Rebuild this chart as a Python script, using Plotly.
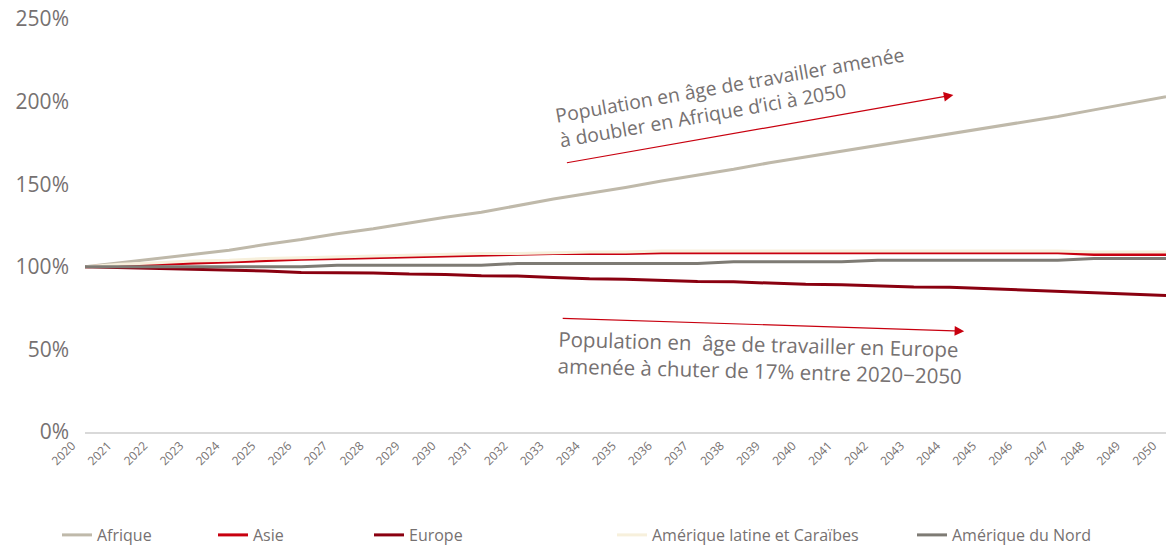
import plotly.graph_objects as go

# Population en âge de travailler, indice 2020 = 100 %
years = list(range(2020, 2051))

afrique = [100, 102.5, 105, 107.5, 110, 113.5, 116.5, 120, 123, 126.5, 130,
           133, 137, 141, 144.5, 148, 152, 155.5, 159, 163, 166.5,
           170, 173.5, 177, 180.5, 184, 187.5, 191, 195, 199, 203]
asie = [100, 100.8, 101.5, 102.5, 103, 104, 104.5, 105, 105.5, 106, 106.3,
        107, 107.3, 108, 108, 108, 108.5, 108.5, 108.5, 108.5, 108.5,
        108.5, 108.5, 108.5, 108.5, 108.5, 108.5, 108.5, 107.5, 107.5, 107.5]
europe = [100, 99.5, 99.3, 98.5, 98.3, 97.5, 96.5, 96.4, 96.3, 95.6, 95.4,
          94.6, 94.4, 93.5, 92.7, 92.5, 91.8, 91.1, 90.9, 90.2, 89.4,
          89.2, 88.5, 87.8, 87.6, 86.8, 86.0, 85.3, 84.5, 83.6, 82.7]
am_latine = [100, 101.5, 102.5, 103.5, 104, 105, 105.5, 106, 106.5, 107, 107.5,
             108, 108, 108.5, 109, 109, 109.5, 109.5, 109.5, 109.5, 109.5,
             109.5, 109.5, 109.5, 109.5, 109.5, 109.5, 109.5, 109, 109, 109]
am_nord = [100, 100, 100, 100, 100, 100, 100, 101, 101, 101, 101,
           101, 102, 102, 102, 102, 102, 102, 103, 103, 103,
           103, 104, 104, 104, 104, 104, 104, 105, 105, 105]

series = [
    ("Afrique", afrique, "#BFB9AA"),
    ("Asie", asie, "#C8000F"),
    ("Europe", europe, "#8A0010"),
    ("Amérique latine et Caraïbes", am_latine, "#F7F0DC"),
    ("Amérique du Nord", am_nord, "#7E7B74"),
]
# left edge of each legend entry, in page pixels
legend_px = [57, 213, 369, 612, 912]

TEXT = "#767171"
FONT = "Open Sans"
W, H = 1169, 545
L, R, T, B = 85, 3, 19, 113
PW, PH = W - L - R, H - T - B

fig = go.Figure()
for i, (name, vals, color) in enumerate(series):
    lg = "legend" if i == 0 else f"legend{i + 1}"
    fig.add_trace(go.Scatter(x=years, y=vals, mode="lines", name=name, showlegend=True,
                             line=dict(color=color, width=3), legend=lg))

legends = {}
for i, px in enumerate(legend_px):
    key = "legend" if i == 0 else f"legend{i + 1}"
    legends[key] = dict(x=(px - L) / PW, xanchor="left",
                        y=(H - B - 535) / PH, yanchor="middle",
                        orientation="h", font=dict(size=16, color=TEXT, family=FONT),
                        itemwidth=30, bgcolor="rgba(0,0,0,0)")
fig.update_layout(showlegend=True, **legends)

# annotations
fig.add_annotation(x=2037.95, y=202.5, xref="x", yref="y", showarrow=False,
                   text="Population en âge de travailler amenée<br>à doubler en Afrique d’ici à 2050",
                   textangle=-10, align="left",
                   font=dict(size=19.4, color=TEXT, family=FONT))
fig.add_annotation(x=2044.1, y=204, xref="x", yref="y", text="",
                   ax=-388, ay=68, showarrow=True, arrowhead=2, arrowsize=1.6,
                   arrowwidth=1.2, arrowcolor="#C8000F")

fig.add_annotation(x=2038.72, y=45, xref="x", yref="y", showarrow=False,
                   text="Population en  âge de travailler en Europe<br>amenée à chuter de 17% entre 2020\u22122050",
                   textangle=1.5, align="left",
                   font=dict(size=20.5, color=TEXT, family=FONT))
fig.add_annotation(x=2044.4, y=61, xref="x", yref="y", text="",
                   ax=-403, ay=-13, showarrow=True, arrowhead=2, arrowsize=1.6,
                   arrowwidth=1.2, arrowcolor="#C8000F")

fig.update_xaxes(range=[2020, 2050], dtick=1, tickangle=-45, showgrid=False,
                 zeroline=False, showline=True, linecolor="#D9D9D9", linewidth=2,
                 ticks="", ticklabelshift=-13, ticklabeloverflow="allow", automargin=False,
                 tickfont=dict(size=12, color=TEXT, family=FONT))
fig.update_yaxes(range=[0, 250], dtick=50, ticksuffix="%", showgrid=False,
                 zeroline=False, showline=False, ticks="", ticklabelstandoff=15,
                 automargin=False, tickfont=dict(size=21, color=TEXT, family=FONT))

fig.update_layout(
    width=W, height=H,
    margin=dict(l=L, r=R, t=T, b=B, autoexpand=False),
    plot_bgcolor="white", paper_bgcolor="white",
    font=dict(family=FONT, color=TEXT),
)

# the page's default body margin would push the figure 8px down and right
fig.write_html("out.html", config={"displayModeBar": False},
               post_script="document.body.style.margin='0';document.body.style.overflow='hidden';")
